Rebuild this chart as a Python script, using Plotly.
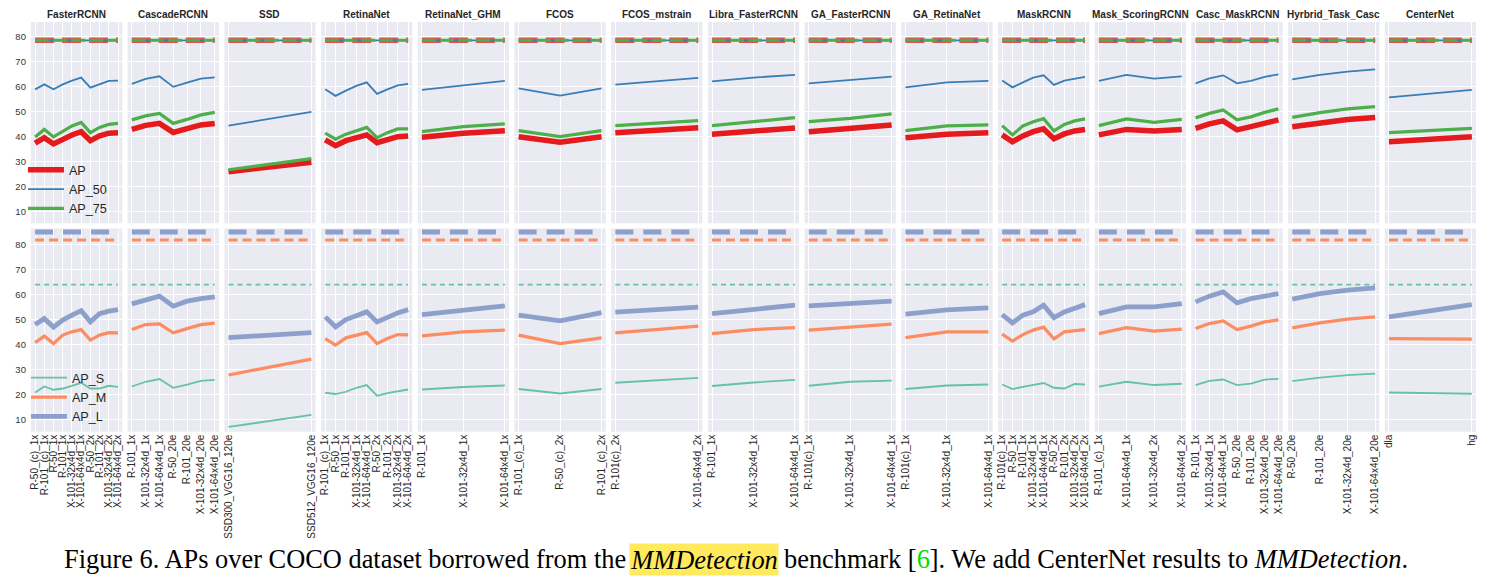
import plotly.graph_objects as go

W, H = 1489, 584

models = ["FasterRCNN", "CascadeRCNN", "SSD", "RetinaNet", "RetinaNet_GHM", "FCOS",
          "FCOS_mstrain", "Libra_FasterRCNN", "GA_FasterRCNN", "GA_RetinaNet", "MaskRCNN",
          "Mask_ScoringRCNN", "Casc_MaskRCNN", "Hyrbrid_Task_Casc", "CenterNet"]

labels = {
    "FasterRCNN": ["R-50_(c)_1x", "R-101_(c)_1x", "R-50_1x", "R-101_1x", "X-101-32x4d_1x",
                   "X-101-64x4d_1x", "R-50_2x", "R-101_2x", "X-101-32x4d_2x", "X-101-64x4d_2x"],
    "CascadeRCNN": ["R-101_1x", "X-101-32x4d_1x", "X-101-64x4d_1x", "R-50_20e", "R-101_20e",
                    "X-101-32x4d_20e", "X-101-64x4d_20e"],
    "SSD": ["SSD300_VGG16_120e", "SSD512_VGG16_120e"],
    "RetinaNet": ["R-101_(c)_1x", "R-50_1x", "R-101_1x", "X-101-32x4d_1x", "X-101-64x4d_1x",
                  "R-50_2x", "R-101_2x", "X-101-32x4d_2x", "X-101-64x4d_2x"],
    "RetinaNet_GHM": ["R-101_1x", "X-101-32x4d_1x", "X-101-64x4d_1x"],
    "FCOS": ["R-101_(c)_1x", "R-50_(c)_2x", "R-101_(c)_2x"],
    "FCOS_mstrain": ["R-101(c)_2x", "X-101-64x4d_2x"],
    "Libra_FasterRCNN": ["R-101_1x", "X-101-32x4d_1x", "X-101-64x4d_1x"],
    "GA_FasterRCNN": ["R-101(c)_1x", "X-101-32x4d_1x", "X-101-64x4d_1x"],
    "GA_RetinaNet": ["R-101(c)_1x", "X-101-32x4d_1x", "X-101-64x4d_1x"],
    "MaskRCNN": ["R-101(c)_1x", "R-50_1x", "R-101_1x", "X-101-32x4d_1x", "X-101-64x4d_1x",
                 "R-50_2x", "R-101_2x", "X-101-32x4d_2x", "X-101-64x4d_2x"],
    "Mask_ScoringRCNN": ["R-101_(c)_1x", "X-101-64x4d_1x", "X-101-32x4d_2x", "X-101-64x4d_2x"],
    "Casc_MaskRCNN": ["R-101_1x", "X-101-32x4d_1x", "X-101-64x4d_1x", "R-50_20e", "R-101_20e",
                      "X-101-32x4d_20e", "X-101-64x4d_20e"],
    "Hyrbrid_Task_Casc": ["R-50_20e", "R-101_20e", "X-101-32x4d_20e", "X-101-64x4d_20e"],
    "CenterNet": ["dla", "hg"],
}

AP = {
    "FasterRCNN": [37.3, 39.5, 37.0, 39.1, 40.6, 41.9, 38.3, 40.2, 41.3, 41.5],
    "CascadeRCNN": [42.8, 44.4, 45.2, 41.6, 43.1, 44.6, 45.2],
    "SSD": [25.9, 29.7],
    "RetinaNet": [38.6, 36.3, 38.3, 39.5, 40.6, 37.5, 38.9, 39.9, 40.2],
    "RetinaNet_GHM": [39.7, 41.3, 42.3],
    "FCOS": [39.9, 37.7, 39.9],
    "FCOS_mstrain": [41.5, 43.5],
    "Libra_FasterRCNN": [40.9, 42.2, 43.4],
    "GA_FasterRCNN": [41.9, 43.2, 44.6],
    "GA_RetinaNet": [39.5, 40.9, 41.5],
    "MaskRCNN": [40.6, 37.9, 40.2, 41.9, 43.0, 39.1, 41.0, 42.2, 42.8],
    "Mask_ScoringRCNN": [40.6, 42.8, 42.2, 42.8],
    "Casc_MaskRCNN": [43.2, 45.0, 46.2, 42.6, 43.9, 45.2, 46.6],
    "Hyrbrid_Task_Casc": [43.9, 45.6, 46.8, 47.6],
    "CenterNet": [37.9, 39.9],
}
AP_50 = {
    "FasterRCNN": [58.8, 60.8, 58.8, 60.8, 62.3, 63.5, 59.5, 60.9, 62.2, 62.3],
    "CascadeRCNN": [61.0, 63.0, 64.0, 59.8, 61.5, 63.1, 63.6],
    "SSD": [44.3, 49.8],
    "RetinaNet": [58.8, 56.2, 58.3, 60.2, 61.6, 57.0, 58.8, 60.4, 61.0],
    "RetinaNet_GHM": [58.6, 60.4, 62.2],
    "FCOS": [59.2, 56.3, 59.2],
    "FCOS_mstrain": [60.7, 63.4],
    "Libra_FasterRCNN": [62.0, 63.5, 64.6],
    "GA_FasterRCNN": [61.2, 62.6, 63.9],
    "GA_RetinaNet": [59.6, 61.6, 62.2],
    "MaskRCNN": [62.3, 59.6, 61.6, 63.5, 64.4, 60.6, 62.3, 63.2, 63.8],
    "Mask_ScoringRCNN": [62.2, 64.6, 63.1, 64.0],
    "Casc_MaskRCNN": [61.2, 63.2, 64.4, 61.2, 62.2, 63.8, 64.8],
    "Hyrbrid_Task_Casc": [62.8, 64.6, 65.9, 66.8],
    "CenterNet": [55.6, 58.6],
}
AP_75 = {
    "FasterRCNN": [39.8, 42.8, 39.8, 41.9, 44.2, 45.6, 41.5, 43.6, 44.8, 45.2],
    "CascadeRCNN": [46.6, 48.2, 49.2, 45.2, 46.8, 48.6, 49.6],
    "SSD": [26.7, 31.1],
    "RetinaNet": [41.3, 38.9, 40.9, 42.3, 43.6, 39.5, 41.5, 43.0, 43.0],
    "RetinaNet_GHM": [41.9, 43.9, 45.0],
    "FCOS": [42.3, 39.9, 42.3],
    "FCOS_mstrain": [44.3, 46.3],
    "Libra_FasterRCNN": [44.3, 45.9, 47.5],
    "GA_FasterRCNN": [45.9, 47.2, 49.0],
    "GA_RetinaNet": [42.3, 44.2, 44.6],
    "MaskRCNN": [44.3, 40.6, 44.2, 45.9, 47.1, 42.2, 44.8, 46.2, 47.0],
    "Mask_ScoringRCNN": [44.3, 47.0, 45.6, 46.8],
    "Casc_MaskRCNN": [47.4, 49.2, 50.6, 46.6, 47.8, 49.6, 51.0],
    "Hyrbrid_Task_Casc": [47.6, 49.5, 51.0, 51.9],
    "CenterNet": [41.5, 43.2],
}
AP_S = {
    "FasterRCNN": [20.9, 23.3, 22.0, 22.5, 23.6, 24.8, 22.5, 22.5, 23.6, 23.2],
    "CascadeRCNN": [23.3, 25.2, 26.3, 22.8, 24.1, 25.6, 26.0],
    "SSD": [7.1, 11.9],
    "RetinaNet": [20.8, 20.3, 21.2, 22.8, 23.9, 19.6, 20.7, 21.5, 22.1],
    "RetinaNet_GHM": [22.1, 23.1, 23.7],
    "FCOS": [22.3, 20.5, 22.3],
    "FCOS_mstrain": [24.8, 26.8],
    "Libra_FasterRCNN": [23.5, 24.9, 26.0],
    "GA_FasterRCNN": [23.6, 25.2, 25.7],
    "GA_RetinaNet": [22.3, 23.7, 24.1],
    "MaskRCNN": [24.1, 22.3, 23.2, 24.1, 24.7, 22.8, 22.5, 24.3, 24.1],
    "Mask_ScoringRCNN": [23.3, 25.2, 23.9, 24.4],
    "Casc_MaskRCNN": [23.9, 25.6, 26.1, 23.9, 24.5, 26.1, 26.4],
    "Hyrbrid_Task_Casc": [25.5, 26.9, 27.9, 28.5],
    "CenterNet": [20.9, 20.4],
}
AP_M = {
    "FasterRCNN": [40.9, 43.5, 40.5, 43.9, 45.2, 46.1, 41.9, 43.9, 44.9, 44.8],
    "CascadeRCNN": [46.1, 48.1, 48.4, 44.8, 46.5, 48.1, 48.7],
    "SSD": [27.9, 34.3],
    "RetinaNet": [42.5, 39.9, 42.8, 43.9, 44.9, 40.5, 42.5, 44.1, 44.0],
    "RetinaNet_GHM": [43.6, 45.2, 45.9],
    "FCOS": [43.9, 40.5, 42.8],
    "FCOS_mstrain": [44.8, 47.5],
    "Libra_FasterRCNN": [44.5, 46.1, 46.9],
    "GA_FasterRCNN": [45.9, 47.2, 48.3],
    "GA_RetinaNet": [42.9, 45.2, 45.2],
    "MaskRCNN": [44.3, 41.5, 44.1, 45.9, 47.1, 42.4, 45.2, 45.7, 46.1],
    "Mask_ScoringRCNN": [44.5, 46.9, 45.5, 46.3],
    "Casc_MaskRCNN": [46.5, 48.5, 49.6, 46.1, 47.5, 49.2, 50.0],
    "Hyrbrid_Task_Casc": [46.8, 48.8, 50.3, 51.2],
    "CenterNet": [42.5, 42.3],
}
AP_L = {
    "FasterRCNN": [48.1, 50.5, 47.1, 49.9, 51.9, 53.7, 49.2, 52.5, 53.5, 54.1],
    "CascadeRCNN": [56.4, 57.9, 59.5, 55.5, 57.5, 58.5, 59.2],
    "SSD": [42.9, 44.9],
    "RetinaNet": [51.2, 47.2, 50.1, 51.6, 53.2, 49.2, 51.2, 52.8, 54.1],
    "RetinaNet_GHM": [52.1, 53.9, 55.6],
    "FCOS": [51.9, 49.6, 52.9],
    "FCOS_mstrain": [53.1, 55.1],
    "Libra_FasterRCNN": [52.5, 54.1, 55.9],
    "GA_FasterRCNN": [55.6, 56.5, 57.5],
    "GA_RetinaNet": [52.3, 54.0, 54.8],
    "MaskRCNN": [52.1, 48.8, 51.9, 53.2, 55.9, 50.9, 53.2, 54.8, 56.1],
    "Mask_ScoringRCNN": [52.5, 55.2, 55.2, 56.5],
    "Casc_MaskRCNN": [57.2, 59.5, 61.2, 56.8, 58.5, 59.6, 60.5],
    "Hyrbrid_Task_Casc": [58.3, 60.5, 61.9, 62.8],
    "CenterNet": [51.2, 56.1],
}

# constant dashed reference levels drawn in every panel
top_ref = 78.4
ref_AP_L = 85.2
ref_AP_M = 82.0
ref_AP_S = 64.1

y_ticks = [10, 20, 30, 40, 50, 60, 70, 80]

# styles
C_AP, C_AP50, C_AP75 = "#e41a1c", "#377eb8", "#4daf4a"
C_S, C_M, C_L = "#66c2a5", "#fc8d62", "#8da0cb"
BG = "#EAEAF2"
FONT = "Liberation Sans, Arial, sans-serif"

top_series = [("AP", AP, C_AP, 5.5), ("AP_50", AP_50, C_AP50, 1.8), ("AP_75", AP_75, C_AP75, 3.2)]
bot_series = [("AP_S", AP_S, C_S, 1.8), ("AP_M", AP_M, C_M, 3.2), ("AP_L", AP_L, C_L, 4.8)]

fig = go.Figure()

x0_px, step_px, pw_px = 29.0, 96.9, 91.4
top_dom = [1 - 223.3 / H, 1 - 22.0 / H]
bot_dom = [1 - 431.7 / H, 1 - 228.5 / H]

layout = {}
annotations = []

for i, m in enumerate(models):
    cats = labels[m]
    n = len(cats)
    xd = [(x0_px + i * step_px) / W, (x0_px + i * step_px + pw_px) / W]
    xr = [-0.05 * (n - 1), (n - 1) * 1.05]
    for row in (1, 2):
        k = i + 1 + 15 * (row - 1)
        xs = "x" if k == 1 else f"x{k}"
        ys = "y" if k == 1 else f"y{k}"
        xkey = "xaxis" if k == 1 else f"xaxis{k}"
        ykey = "yaxis" if k == 1 else f"yaxis{k}"
        layout[xkey] = dict(
            domain=xd, anchor=ys, type="category", categoryorder="array",
            categoryarray=cats, range=xr, tickmode="array", tickvals=cats, ticktext=cats,
            showgrid=True, gridcolor="white", gridwidth=1,
            zeroline=False, showline=False, ticks="",
            showticklabels=(row == 2), tickangle=-90, ticklabelstandoff=0,
            tickfont=dict(family=FONT, size=10, color="#262626"),
        )
        layout[ykey] = dict(
            domain=top_dom if row == 1 else bot_dom, anchor=xs,
            range=[5.3, 85.7] if row == 1 else [5.2, 86.6],
            tickvals=y_ticks, showgrid=True, gridcolor="white", gridwidth=1,
            zeroline=False, showline=False, ticks="", showticklabels=(i == 0),
            ticklabelstandoff=4, tickfont=dict(family=FONT, size=9.5, color="#333333"),
        )
        ends = [cats[0], cats[-1]]
        if row == 1:
            fig.add_trace(go.Scatter(x=ends, y=[top_ref, top_ref], mode="lines", xaxis=xs, yaxis=ys,
                                     line=dict(color=C_AP, width=5.5, dash="19px,8px"),
                                     opacity=0.75, showlegend=False, hoverinfo="skip"))
            fig.add_trace(go.Scatter(x=ends, y=[top_ref, top_ref], mode="lines", xaxis=xs, yaxis=ys,
                                     line=dict(color=C_AP50, width=1.8),
                                     showlegend=False, hoverinfo="skip"))
            fig.add_trace(go.Scatter(x=ends, y=[top_ref, top_ref], mode="lines", xaxis=xs, yaxis=ys,
                                     line=dict(color=C_AP75, width=3, dash="14px,4px"),
                                     showlegend=False, hoverinfo="skip"))
            series = top_series
            lg = "legend"
        else:
            fig.add_trace(go.Scatter(x=ends, y=[ref_AP_S, ref_AP_S], mode="lines", xaxis=xs, yaxis=ys,
                                     line=dict(color=C_S, width=1.8, dash="5px,4px"),
                                     showlegend=False, hoverinfo="skip"))
            fig.add_trace(go.Scatter(x=ends, y=[ref_AP_M, ref_AP_M], mode="lines", xaxis=xs, yaxis=ys,
                                     line=dict(color=C_M, width=3.2, dash="9px,5px"),
                                     showlegend=False, hoverinfo="skip"))
            fig.add_trace(go.Scatter(x=ends, y=[ref_AP_L, ref_AP_L], mode="lines", xaxis=xs, yaxis=ys,
                                     line=dict(color=C_L, width=4.8, dash="18px,10px"),
                                     showlegend=False, hoverinfo="skip"))
            series = bot_series
            lg = "legend2"
        for name, data, col, lw in series:
            fig.add_trace(go.Scatter(
                x=cats, y=data[m], mode="lines", name=name, xaxis=xs, yaxis=ys,
                line=dict(color=col, width=lw), showlegend=(i == 0), legend=lg,
            ))
    annotations.append(dict(
        text=f"<b>{m}</b>", x=(xd[0] + xd[1]) / 2, y=1 - 14.5 / H, xref="paper", yref="paper",
        showarrow=False, xanchor="center", yanchor="middle",
        font=dict(family=FONT, size=10, color="#262626"),
    ))

# caption
cap_y = 1 - 559 / H
CAP_FONT = dict(family="Liberation Serif, Times New Roman, serif", size=26.4, color="black")
annotations.append(dict(text="Figure 6. APs over COCO dataset borrowed from the", x=627 / W, y=cap_y,
                        xref="paper", yref="paper", xanchor="right", yanchor="middle",
                        showarrow=False, font=CAP_FONT))
annotations.append(dict(text="<i>MMDetection</i>", x=703.5 / W, y=cap_y, xref="paper", yref="paper",
                        xanchor="center", yanchor="middle", showarrow=False, font=CAP_FONT,
                        bgcolor="#FFEA5E", width=148, height=31, borderpad=0))
annotations.append(dict(
    text="benchmark [<span style='color:#00dd00'>6</span>]. We add CenterNet results to <i>MMDetection</i>.",
    x=782 / W, y=cap_y, xref="paper", yref="paper", xanchor="left", yanchor="middle",
    showarrow=False, font=CAP_FONT))

fig.update_layout(
    **layout,
    width=W, height=H,
    margin=dict(l=0, r=0, t=0, b=0),
    paper_bgcolor="white", plot_bgcolor=BG,
    font=dict(family=FONT),
    annotations=annotations,
    legend=dict(x=21 / W, y=1 - 155 / H, xanchor="left", yanchor="top", bgcolor="rgba(0,0,0,0)",
                font=dict(family=FONT, size=12.6, color="#262626"), itemwidth=36, tracegroupgap=0),
    legend2=dict(x=24 / W, y=1 - 363 / H, xanchor="left", yanchor="top", bgcolor="rgba(0,0,0,0)",
                 font=dict(family=FONT, size=12.6, color="#262626"), itemwidth=36, tracegroupgap=0),
)

fig.write_html("out.html", config={"displayModeBar": False},
               post_script="document.body.style.margin='0';document.body.style.padding='0';")
